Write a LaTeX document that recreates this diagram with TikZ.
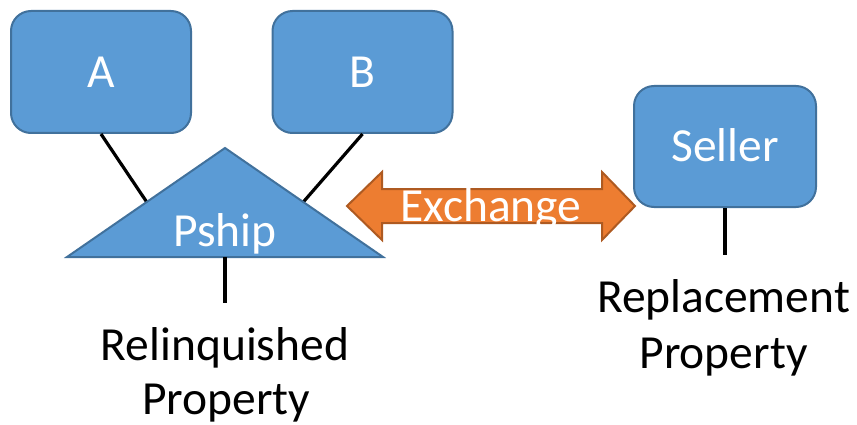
\documentclass[tikz,border=0pt]{standalone}
\usepackage{fontspec}
\setmainfont{Carlito}
\definecolor{boxfill}{HTML}{5B9BD5}
\definecolor{boxedge}{HTML}{41719C}
\definecolor{arrowfill}{HTML}{ED7D31}
\definecolor{arrowedge}{HTML}{AE5A21}
\begin{document}
\begin{tikzpicture}[x=1pt,y=-1pt,
  box/.style={draw=boxedge, fill=boxfill, line width=2pt, rounded corners=20pt,
    text=white, font=\fontsize{47.5}{57}\selectfont, inner sep=0pt,
    text height=30.5pt, text depth=0pt},
  link/.style={line width=3.2pt, black},
  lbl/.style={font=\fontsize{47.5}{57}\selectfont, anchor=base, inner sep=0pt}]
\useasboundingbox (0,0) rectangle (857,425);

% partners and seller
\node[box, minimum width=180pt, minimum height=122pt] (A) at (101,72) {A};
\node[box, minimum width=180pt, minimum height=122pt] (B) at (362.5,72) {B};
\node[box, minimum width=182pt, minimum height=121pt] (seller) at (725,146.5) {Seller};

% partnership triangle corners and attachment points
\coordinate (tl) at (67,257);
\coordinate (tt) at (225,148);
\coordinate (tr) at (383,257);
\coordinate (pl) at (146.7,202);
\coordinate (pr) at (303.3,202);
\coordinate (pbase) at (225,257);
\coordinate (pend) at (225,303);
\coordinate (send) at (725,255);

\draw[link] (A.south) -- (pl);
\draw[link] (B.south) -- (pr);
\draw[fill=boxfill, draw=boxedge, line width=2pt, line join=miter] (tl) -- (tt) -- (tr) -- cycle;
\node[lbl, text=white] (pship) at (225,246) {Pship};
\draw[link] (pbase) -- (pend);
\draw[link] (seller.south) -- (send);

% exchange double arrow
\draw[fill=arrowfill, draw=arrowedge, line width=2pt, line join=miter]
  (347,206) -- (382,172) -- (382,189) -- (602,189) -- (602,172) -- (635,206)
  -- (602,240) -- (602,223) -- (382,223) -- (382,240) -- cycle;
\node[lbl, text=white] (exchange) at (491,222) {Exchange};

% property labels
\node[lbl] (relinq) at (225,360) {Relinquished};
\node[lbl] (relprop) at (226,414.5) {Property};
\node[lbl] (replace) at (723.5,312) {Replacement};
\node[lbl] (repprop) at (723.5,368) {Property};
\end{tikzpicture}
\end{document}
